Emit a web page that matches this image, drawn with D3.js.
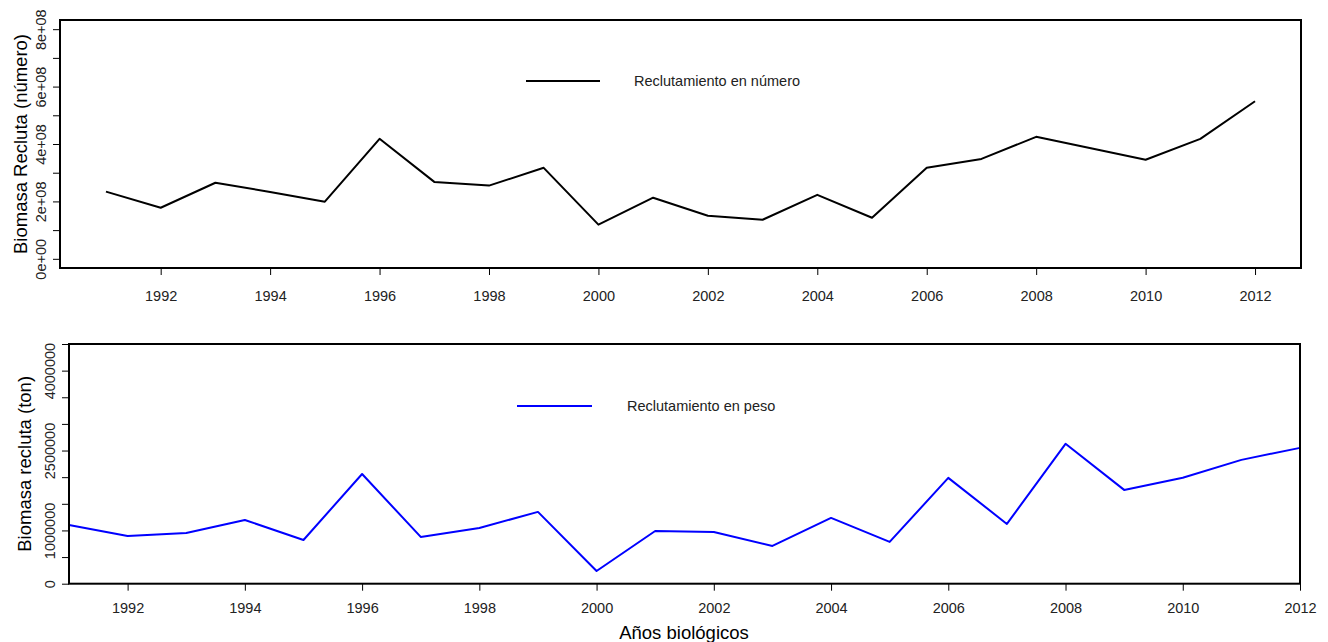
<!DOCTYPE html>
<html>
<head>
<meta charset="utf-8">
<script src="https://cdn.jsdelivr.net/npm/d3@7"></script>
<style>
  html, body { margin: 0; padding: 0; background: #fff; }
  svg { display: block; font-family: "Liberation Sans", Arial, sans-serif; }
</style>
</head>
<body>
<svg id="chart" width="1328" height="642"></svg>
<script>
// Años biológicos
const years = d3.range(1991, 2013);
// Reclutamiento en número (individuos)
const recNumero = [2.34e8, 1.78e8, 2.65e8, 2.33e8, 1.99e8, 4.18e8, 2.68e8, 2.55e8, 3.17e8, 1.19e8, 2.13e8,
                   1.50e8, 1.36e8, 2.23e8, 1.43e8, 3.17e8, 3.48e8, 4.25e8, 3.85e8, 3.45e8, 4.18e8, 5.49e8];
// Reclutamiento en peso (ton)
const recPeso = [1.10e6, 0.897e6, 0.953e6, 1.197e6, 0.82e6, 2.06e6, 0.878e6, 1.047e6, 1.348e6, 0.239e6, 0.99e6,
                 0.972e6, 0.709e6, 1.235e6, 0.784e6, 1.987e6, 1.122e6, 2.626e6, 1.761e6, 1.99e6, 2.325e6, 2.55e6];
// Etiquetas de ejes
const xTickYears = d3.range(1992, 2013, 2);
const topYTicks = d3.range(0, 9e8, 1e8);
const topYLabels = [0, 2e8, 4e8, 6e8, 8e8];
const botYTicks = d3.range(0, 4.5e6 + 1, 5e5);
const botYLabels = [0, 1e6, 2.5e6, 4e6];

const svg = d3.select("#chart");
const TICK_FONT = 14.5;
const TITLE_FONT = 18.5;

function sci(v) {
  if (v === 0) return "0e+00";
  const e = Math.floor(Math.log10(v));
  const m = Math.round(v / Math.pow(10, e));
  return m + "e+" + String(e).padStart(2, "0");
}

function panel(cfg) {
  const { left, right, top, bottom, xDomain, yDomain, values, color, yTicks, yLabels, fmt,
          ylab, ylabX, tickLabX, xLabY, legend } = cfg;
  const x = d3.scaleLinear().domain(xDomain).range([left, right]);
  const y = d3.scaleLinear().domain(yDomain).range([bottom, top]);
  const g = svg.append("g");

  // serie
  const line = d3.line().x((d, i) => x(years[i])).y(d => y(d));
  g.append("path").datum(values)
    .attr("d", line).attr("fill", "none")
    .attr("stroke", color).attr("stroke-width", 2).attr("stroke-linejoin", "round");

  // eje x
  const xAxis = d3.axisBottom(x).tickValues(xTickYears).tickSize(7).tickFormat(d3.format("d"));
  const gx = g.append("g").attr("transform", `translate(0,${bottom})`).call(xAxis);
  gx.select(".domain").remove();
  gx.selectAll(".tick line").attr("stroke", "#000").attr("stroke-width", 1);
  gx.selectAll(".tick text").attr("y", 0).attr("dy", null)
    .attr("transform", `translate(0,${xLabY - bottom})`)
    .attr("font-size", TICK_FONT).attr("fill", "#222").attr("font-family", "Liberation Sans, Arial, sans-serif");

  // eje y
  const yAxis = d3.axisLeft(y).tickValues(yTicks).tickSize(7).tickFormat(d => yLabels.includes(d) ? fmt(d) : "");
  const gy = g.append("g").attr("transform", `translate(${left},0)`).call(yAxis);
  gy.select(".domain").remove();
  gy.selectAll(".tick line").attr("stroke", "#000").attr("stroke-width", 1);
  gy.selectAll(".tick text")
    .attr("x", null).attr("dy", null)
    .attr("transform", `translate(${tickLabX - left},0) rotate(-90)`)
    .attr("text-anchor", "middle").attr("dominant-baseline", "auto")
    .attr("font-size", TICK_FONT).attr("fill", "#222").attr("font-family", "Liberation Sans, Arial, sans-serif");

  // caja
  g.append("rect").attr("x", left).attr("y", top)
    .attr("width", right - left).attr("height", bottom - top)
    .attr("fill", "none").attr("stroke", "#000").attr("stroke-width", 2);

  // título eje y
  g.append("text")
    .attr("transform", `translate(${ylabX},${(top + bottom) / 2}) rotate(-90)`)
    .attr("text-anchor", "middle").attr("font-size", TITLE_FONT).attr("fill", "#000")
    .text(ylab);

  // leyenda
  g.append("line").attr("x1", legend.x1).attr("x2", legend.x2)
    .attr("y1", legend.y).attr("y2", legend.y)
    .attr("stroke", color).attr("stroke-width", 2);
  g.append("text").attr("x", legend.tx).attr("y", legend.y + 5)
    .attr("font-size", TICK_FONT).attr("fill", "#222").text(legend.text);
}

// Panel superior: reclutamiento en número
panel({
  left: 60, right: 1301, top: 20, bottom: 268,
  xDomain: [1991 - 0.84, 2012 + 0.84],
  yDomain: [-0.32e8, 8.32e8],
  values: recNumero, color: "#000",
  yTicks: topYTicks, yLabels: topYLabels, fmt: sci,
  ylab: "Biomasa Recluta (número)", ylabX: 27, tickLabX: 46, xLabY: 301,
  legend: { x1: 526, x2: 600, y: 81, tx: 634, text: "Reclutamiento en número" }
});

// Panel inferior: reclutamiento en peso
panel({
  left: 69, right: 1300, top: 344, bottom: 583.7,
  xDomain: [1991, 2012],
  yDomain: [0, 4.5e6],
  values: recPeso, color: "#0000ff",
  yTicks: botYTicks, yLabels: botYLabels, fmt: d3.format("d"),
  ylab: "Biomasa recluta (ton)", ylabX: 31, tickLabX: 55, xLabY: 613,
  legend: { x1: 517, x2: 592, y: 406, tx: 627, text: "Reclutamiento en peso" }
});

// título eje x
svg.append("text").attr("x", 684).attr("y", 639)
  .attr("text-anchor", "middle").attr("font-size", TITLE_FONT).attr("fill", "#000")
  .text("Años biológicos");
</script>
</body>
</html>
